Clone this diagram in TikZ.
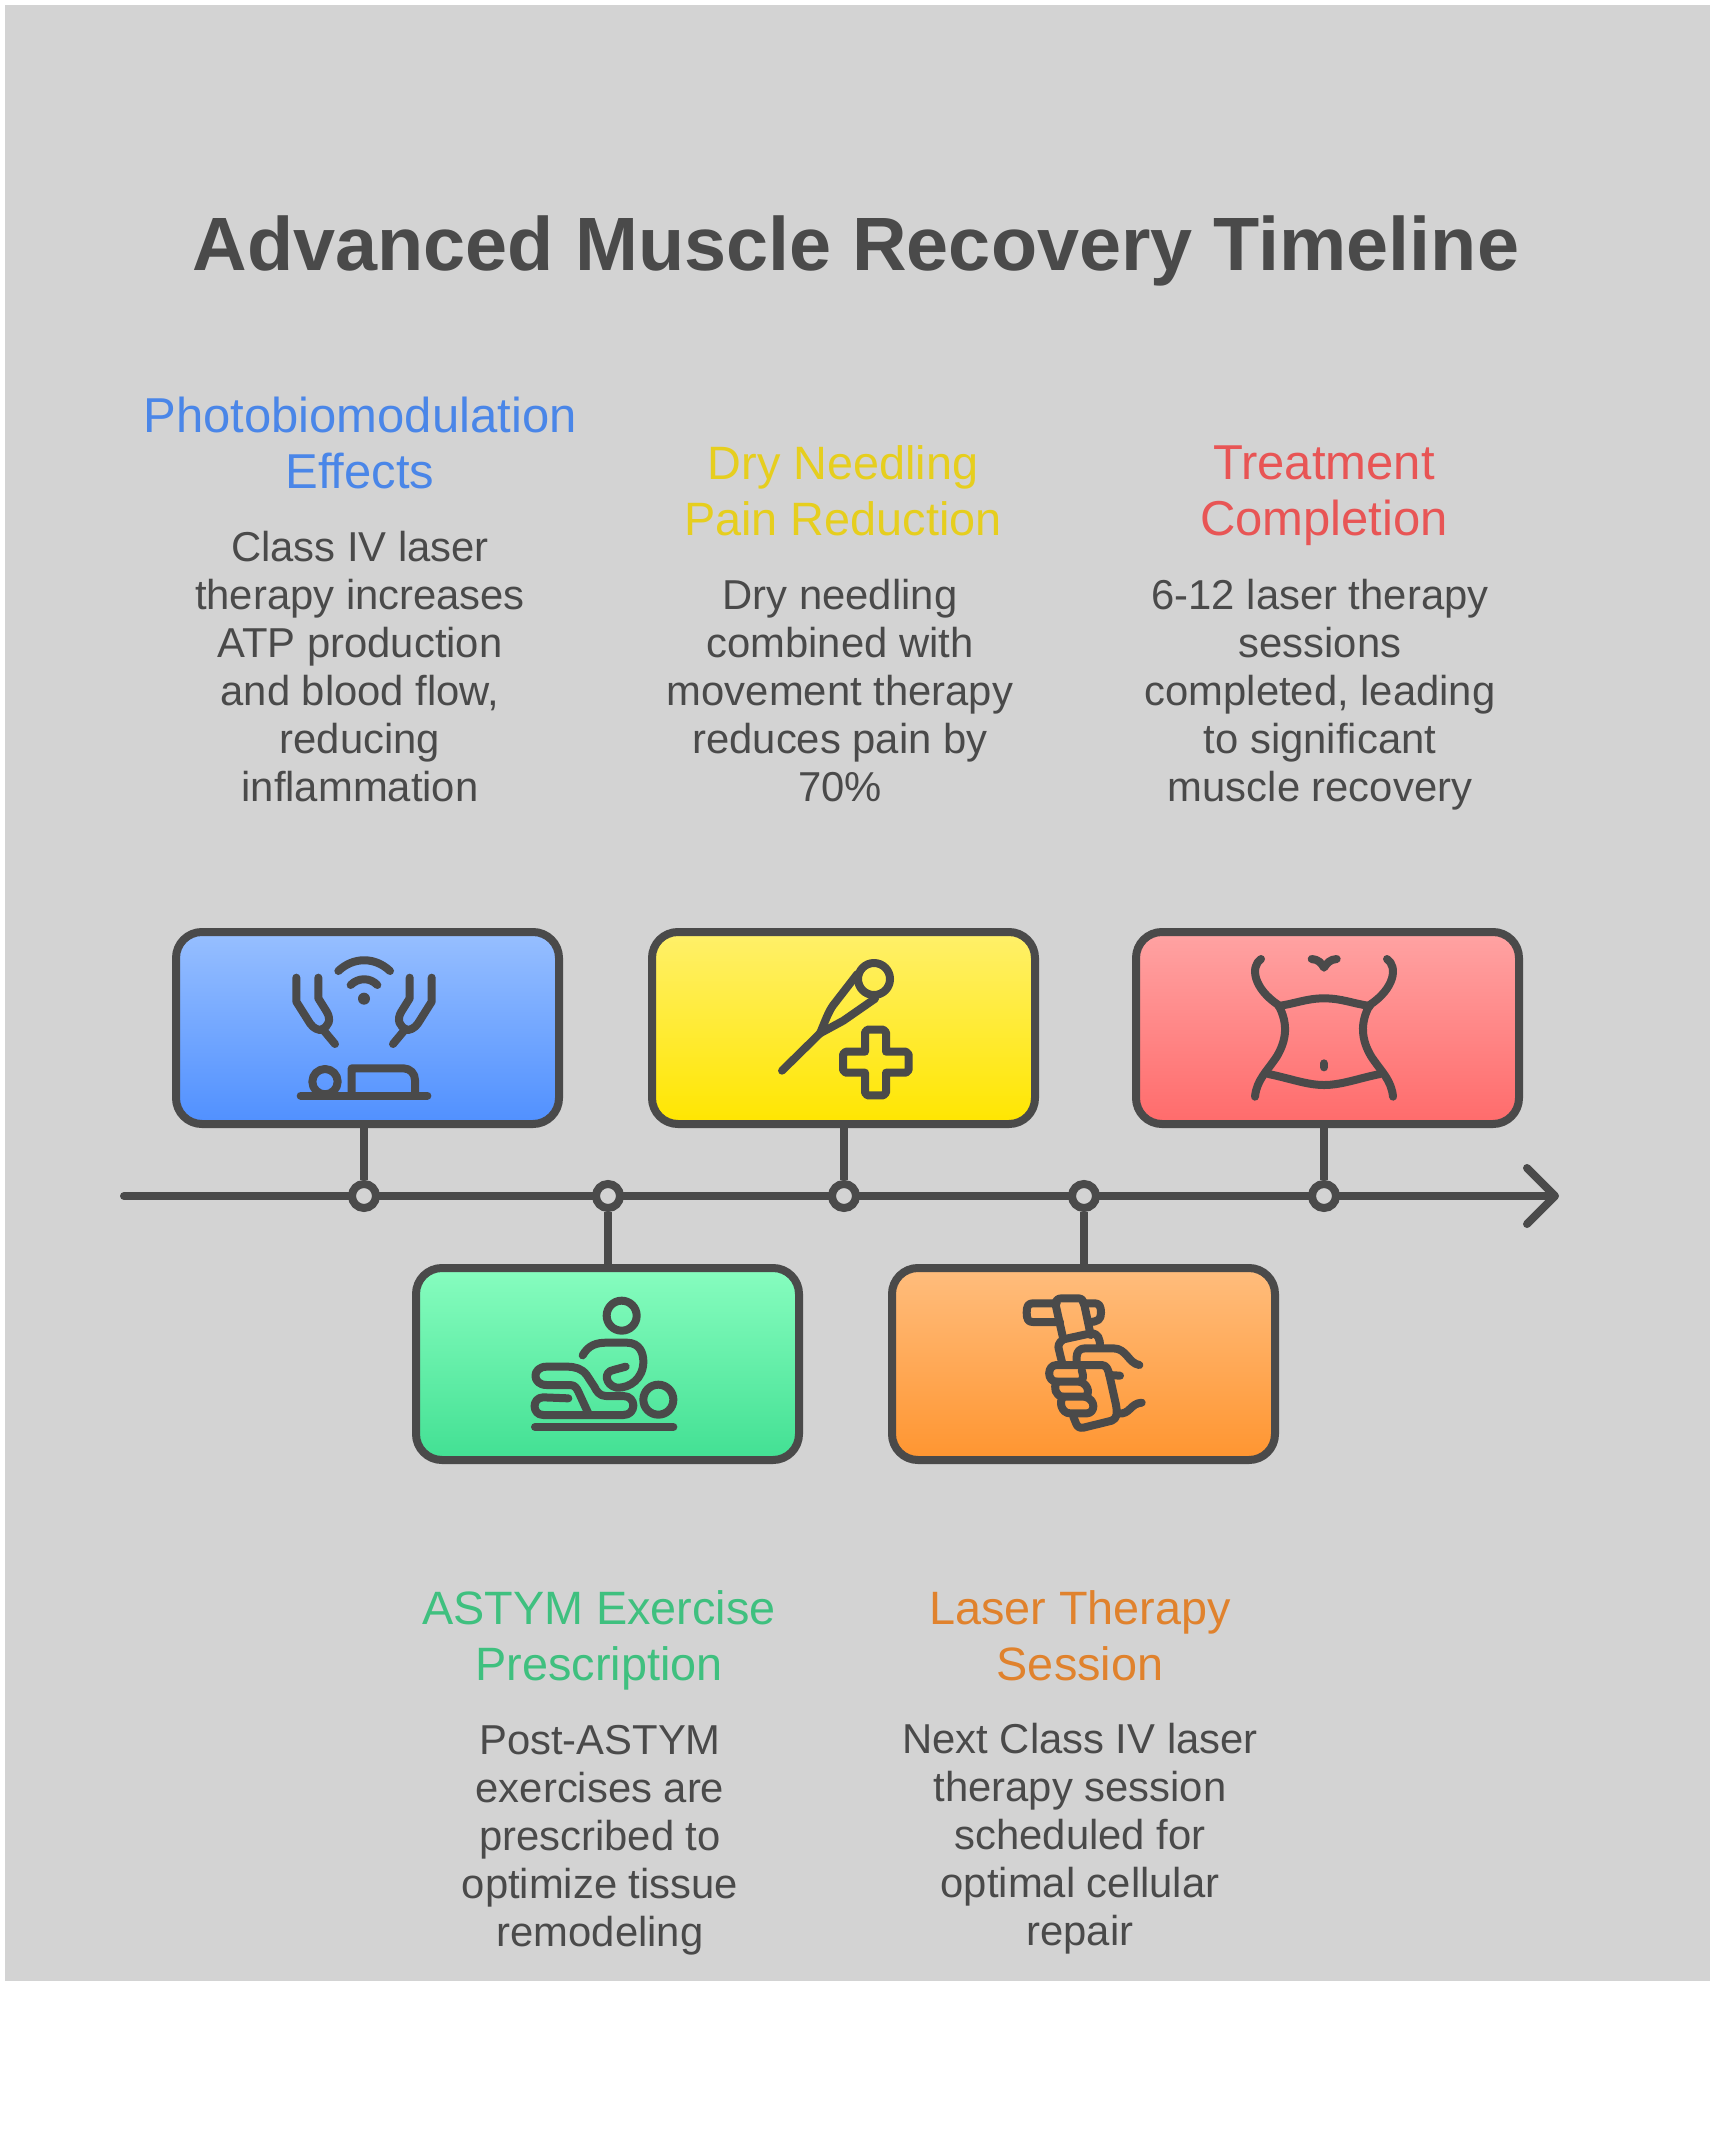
\documentclass[tikz,border=0pt]{standalone}
\usepackage{fontspec}
\setmainfont{Liberation Sans}
\usepackage{tikz}
\usetikzlibrary{arrows.meta}
\definecolor{panel}{HTML}{D3D3D3}
\definecolor{ink}{HTML}{4A4A4A}
\definecolor{bluetext}{HTML}{4A86E8}
\definecolor{yellowtext}{HTML}{E6CE1E}
\definecolor{redtext}{HTML}{E85555}
\definecolor{greentext}{HTML}{3FC07F}
\definecolor{orangetext}{HTML}{E0822D}

\begin{document}
\begin{tikzpicture}[x=0.5pt,y=-0.5pt]
\tikzset{
	hollow node/.style = {circle, draw = ink, line width = 4pt, fill = panel, inner sep = 0, minimum size = 12pt},
	phase box/.style = {rectangle, draw = ink, line width = 4pt, rounded corners = 13pt, minimum width = 191.5pt, minimum height = 96pt},
	title text/.style = {text = ink, font = \fontsize{37.8}{46}\selectfont\bfseries},
	head text/.style = {align = center, font = \fontsize{23.4}{28}\selectfont},
	wide head text/.style = {align = center, font = \fontsize{24.5}{28}\selectfont},
	body text/.style = {align = center, text = ink, font = \fontsize{20.9}{24}\selectfont},
	axis line/.style = {draw = ink, line width = 4pt, line cap = round},
	icon line/.style = {draw = ink, line width = 4pt, line cap = round, line join = round, x = 0.16667pt, y = -0.16667pt},
}

\useasboundingbox (0,0) rectangle (1716,2156);
\fill[white] (0,0) rectangle (1716,2156);
\fill[panel] (5,5) rectangle (1710,1981);

\node (title) [title text] at (856,251) {Advanced Muscle Recovery Timeline};

% texts above the line
\node (head1) [wide head text, text = bluetext] at (360,443) {Photobiomodulation\\Effects};
\node (body1) [body text] at (360,667) {Class IV laser\\therapy increases\\ATP production\\and blood flow,\\reducing\\inflammation};
\node (head2) [head text, text = yellowtext] at (843,491) {Dry Needling\\Pain Reduction};
\node (body2) [body text] at (840,691) {Dry needling\\combined with\\movement therapy\\reduces pain by\\70\%};
\node (head3) [wide head text, text = redtext] at (1324,496) {Treatment\\Completion};
\node (body3) [body text] at (1320,695) {6-12 laser therapy\\sessions\\completed, leading\\to significant\\muscle recovery};

% texts below the line
\node (head4) [head text, text = greentext] at (599,1640) {ASTYM Exercise\\Prescription};
\node (body4) [body text] at (600,1840) {Post-ASTYM\\exercises are\\prescribed to\\optimize tissue\\remodeling};
\node (head5) [head text, text = orangetext] at (1080,1636) {Laser Therapy\\Session};
\node (body5) [body text] at (1080,1839) {Next Class IV laser\\therapy session\\scheduled for\\optimal cellular\\repair};

% timeline
\coordinate (axis start) at (124,1196);
\coordinate (axis end) at (1559,1196);
\draw[axis line, -{Straight Barb[length=14pt,width=28pt,round]}] (axis start) -- (axis end);

\node (dot1) [hollow node] at (364,1196) {};
\node (dot4) [hollow node] at (608,1196) {};
\node (dot2) [hollow node] at (844,1196) {};
\node (dot5) [hollow node] at (1084,1196) {};
\node (dot3) [hollow node] at (1324,1196) {};

\node (box1) [phase box, top color = {rgb,255:red,151;green,191;blue,255}, bottom color = {rgb,255:red,80;green,144;blue,255}] at (367.5,1028) {};
\node (box2) [phase box, top color = {rgb,255:red,255;green,240;blue,106}, bottom color = {rgb,255:red,255;green,230;blue,0}] at (843.5,1028) {};
\node (box3) [phase box, top color = {rgb,255:red,255;green,163;blue,163}, bottom color = {rgb,255:red,255;green,107;blue,107}] at (1327.5,1028) {};
\node (box4) [phase box, top color = {rgb,255:red,135;green,253;blue,191}, bottom color = {rgb,255:red,66;green,224;blue,147}] at (607.5,1364) {};
\node (box5) [phase box, top color = {rgb,255:red,255;green,189;blue,125}, bottom color = {rgb,255:red,255;green,149;blue,48}] at (1083.5,1364) {};

\draw[axis line, line cap = butt] (box1.south -| dot1) -- (dot1);
\draw[axis line, line cap = butt] (box2.south -| dot2) -- (dot2);
\draw[axis line, line cap = butt] (box3.south -| dot3) -- (dot3);
\draw[axis line, line cap = butt] (dot4) -- (box4.north -| dot4);
\draw[axis line, line cap = butt] (dot5) -- (box5.north -| dot5);

% laser hands over a patient
\begin{scope}[shift={(150,900)}, icon line]
\draw (565,213) .. controls (610,170) and (675,170) .. (720,213);
\draw (602,255) .. controls (625,232) and (660,232) .. (682,255);
\fill[ink] (642,296) circle (18);
\draw (439,233) -- (439,305) -- (480,370) .. controls (490,385) and (505,392) .. (520,390) -- (555,432);
\draw (505,233) -- (505,295) -- (530,335) .. controls (545,360) and (535,380) .. (515,388);
\draw (845,233) -- (845,305) -- (804,370) .. controls (794,385) and (779,392) .. (764,390) -- (729,432);
\draw (779,233) -- (779,295) -- (754,335) .. controls (739,360) and (749,380) .. (769,388);
\draw (452,587) -- (832,587);
\draw (525,545) circle (38);
\draw (605,587) -- (605,505) -- (760,505) .. controls (780,505) and (795,520) .. (795,540) -- (795,587);
\end{scope}

% needle and cross
\begin{scope}[shift={(630,900)}, icon line]
\draw (456,512) -- (570,400) -- (640,362) -- (735,296);
\draw (570,400) .. controls (585,365) and (595,335) .. (610,315) -- (682,222);
\draw (732,237) circle (48);
\draw (705,455) -- (705,397) -- (712,389) -- (760,389) -- (768,397) -- (768,455) -- (828,455) -- (836,463) -- (836,510) -- (828,518) -- (768,518) -- (768,578) -- (760,586) -- (712,586) -- (705,578) -- (705,518) -- (647,518) -- (639,510) -- (639,463) -- (647,455) -- cycle;
\end{scope}

% torso
\begin{scope}[shift={(1110,900)}, icon line]
\draw (453,177) .. controls (420,200) and (430,265) .. (505,315) .. controls (535,370) and (530,420) .. (500,470) .. controls (470,515) and (440,540) .. (435,590);
\draw (831,177) .. controls (864,200) and (854,265) .. (779,315) .. controls (749,370) and (754,420) .. (784,470) .. controls (814,515) and (844,540) .. (849,590);
\draw (505,318) .. controls (560,310) and (590,295) .. (642,295) .. controls (695,295) and (725,310) .. (780,318);
\draw (475,522) .. controls (540,535) and (590,555) .. (642,555) .. controls (695,555) and (745,535) .. (810,522);
\draw (642,490) -- (642,502);
\draw (605,177) .. controls (625,178) and (635,190) .. (642,203) .. controls (650,190) and (660,178) .. (680,177);
\end{scope}

% massage
\begin{scope}[shift={(400,1250)}, icon line]
\draw (665,197) circle (45);
\draw (548,316) .. controls (565,285) and (590,278) .. (620,278) -- (680,278) .. controls (720,278) and (730,310) .. (730,335) .. controls (730,385) and (690,415) .. (650,413) .. controls (615,405) and (610,365) .. (640,360) -- (677,350);
\draw (775,449) circle (45);
\draw (505,445) -- (430,442) .. controls (395,442) and (395,495) .. (430,495) -- (670,495) .. controls (710,495) and (710,438) .. (670,438) -- (618,438) .. controls (600,438) and (590,425) .. (583,410) -- (560,375) .. controls (545,355) and (525,350) .. (500,350) -- (440,350) .. controls (395,350) and (395,405) .. (440,405) -- (510,405) .. controls (525,405) and (530,415) .. (535,425) -- (565,490);
\draw (405,531) -- (820,531);
\end{scope}

% hand holding the laser
\begin{scope}[shift={(880,1250)}, icon line]
\draw (530,160) -- (458,160) .. controls (445,160) and (440,168) .. (440,188) .. controls (440,208) and (445,216) .. (458,216) -- (540,216);
\draw (610,160) -- (645,160) .. controls (658,160) and (663,170) .. (663,188) .. controls (663,208) and (655,216) .. (625,216);
\draw (550,268) -- (527,165) .. controls (525,150) and (535,145) .. (545,145) -- (595,145) .. controls (605,145) and (610,152) .. (612,160) -- (632,255);
\draw (550,268) -- (632,250) .. controls (655,250) and (660,265) .. (660,290);
\draw (550,268) .. controls (535,278) and (533,290) .. (537,300) -- (548,345);
\draw (590,345) -- (590,320) .. controls (590,305) and (600,295) .. (615,295) -- (700,295) .. controls (740,295) and (745,340) .. (778,345);
\draw (590,345) -- (665,345) .. controls (680,345) and (685,360) .. (688,375) -- (720,377);
\draw (688,375) -- (708,465) .. controls (712,490) and (712,505) .. (695,512) -- (610,533) .. controls (598,535) and (592,530) .. (588,520) -- (580,500);
\draw (590,345) -- (530,345) .. controls (500,345) and (500,395) .. (530,395) -- (595,395) .. controls (610,395) and (612,380) .. (605,360);
\draw (530,395) .. controls (520,410) and (525,440) .. (550,440) -- (610,440) .. controls (630,440) and (630,405) .. (600,395);
\draw (550,440) .. controls (535,455) and (545,490) .. (570,490) -- (620,490) .. controls (645,490) and (650,450) .. (615,440);
\draw (715,490) .. controls (750,495) and (750,460) .. (785,458);
\end{scope}

\end{tikzpicture}
\end{document}
